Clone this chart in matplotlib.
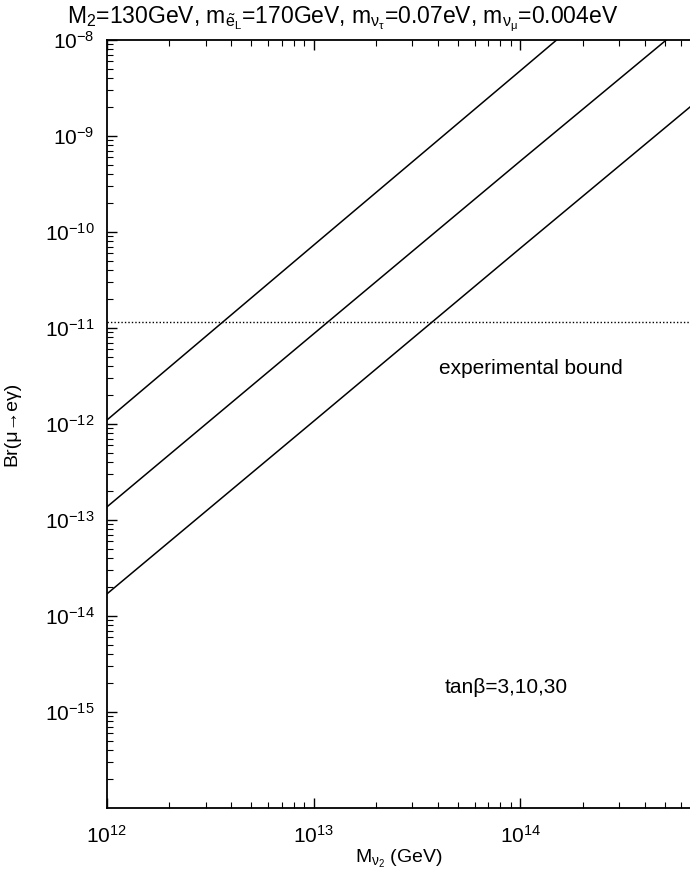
import numpy as np
import matplotlib
matplotlib.use("Agg")
import matplotlib.pyplot as plt

plt.rcParams['font.family'] = ['Liberation Sans', 'DejaVu Sans']
plt.rcParams['mathtext.fontset'] = 'custom'
plt.rcParams['mathtext.rm'] = 'Liberation Sans'
plt.rcParams['mathtext.it'] = 'Liberation Sans'
plt.rcParams['mathtext.sf'] = 'Liberation Sans'

# Data
mass = [1e12, 1e13, 1e14, 6.6e14]
br_tan3 = [1.7e-14, 1.07e-12, 6.8e-11, 2.0e-9]
br_tan10 = [1.37e-13, 8.7e-12, 5.5e-10, 1.6e-8]
br_tan30 = [1.1e-12, 7.3e-11, 4.8e-9, 1.5e-7]
exp_bound = 1.15e-11

fig = plt.figure(figsize=(6.9, 8.71), dpi=100)
ax = fig.add_axes([0.155, 0.0723, 0.845, 0.8818])

for br in (br_tan30, br_tan10, br_tan3):
    ax.plot(mass, br, color='black', lw=1.1)
ax.axhline(exp_bound, color='black', lw=1.0, ls=(0, (1, 1.5)))

ax.set_xscale('log')
ax.set_yscale('log')
ax.set_xlim(1e12, 10**14.82)
ax.set_ylim(1e-16, 1e-8)
ax.set_yticks([1e-15, 1e-14, 1e-13, 1e-12, 1e-11, 1e-10, 1e-9, 1e-8])
ax.set_xticks([1e12, 1e13, 1e14])

ax.tick_params(which='both', direction='in', top=True, right=False, labelsize=15)
ax.tick_params(which='major', length=7, width=1)
ax.tick_params(which='minor', length=4, width=0.8)
ax.tick_params(axis='x', pad=12)
ax.tick_params(axis='y', pad=9)
ax.spines['right'].set_visible(False)
for s in ('left', 'top', 'bottom'):
    ax.spines[s].set_linewidth(1.3)

fig.text(0.497, 0.978,
         r'M$_2$=130GeV, m$_{\tilde{e}_L}$=170GeV, m$_{\nu_\tau}$=0.07eV, m$_{\nu_\mu}$=0.004eV',
         fontsize=16.5, ha='center', va='center')
ax.set_xlabel(r'M$_{\nu_2}$ (GeV)', fontsize=14)
ax.xaxis.set_label_coords(0.5, -0.052)
ax.set_ylabel('Br(μ→eγ)', fontsize=14)
ax.yaxis.set_label_coords(-0.148, 0.5)

ax.text(0.57, 0.572, 'experimental bound', transform=ax.transAxes, fontsize=15, va='center')
ax.text(0.58, 0.157, 'tanβ=3,10,30', transform=ax.transAxes, fontsize=15, va='center')

fig.savefig('out.png', dpi=100)
